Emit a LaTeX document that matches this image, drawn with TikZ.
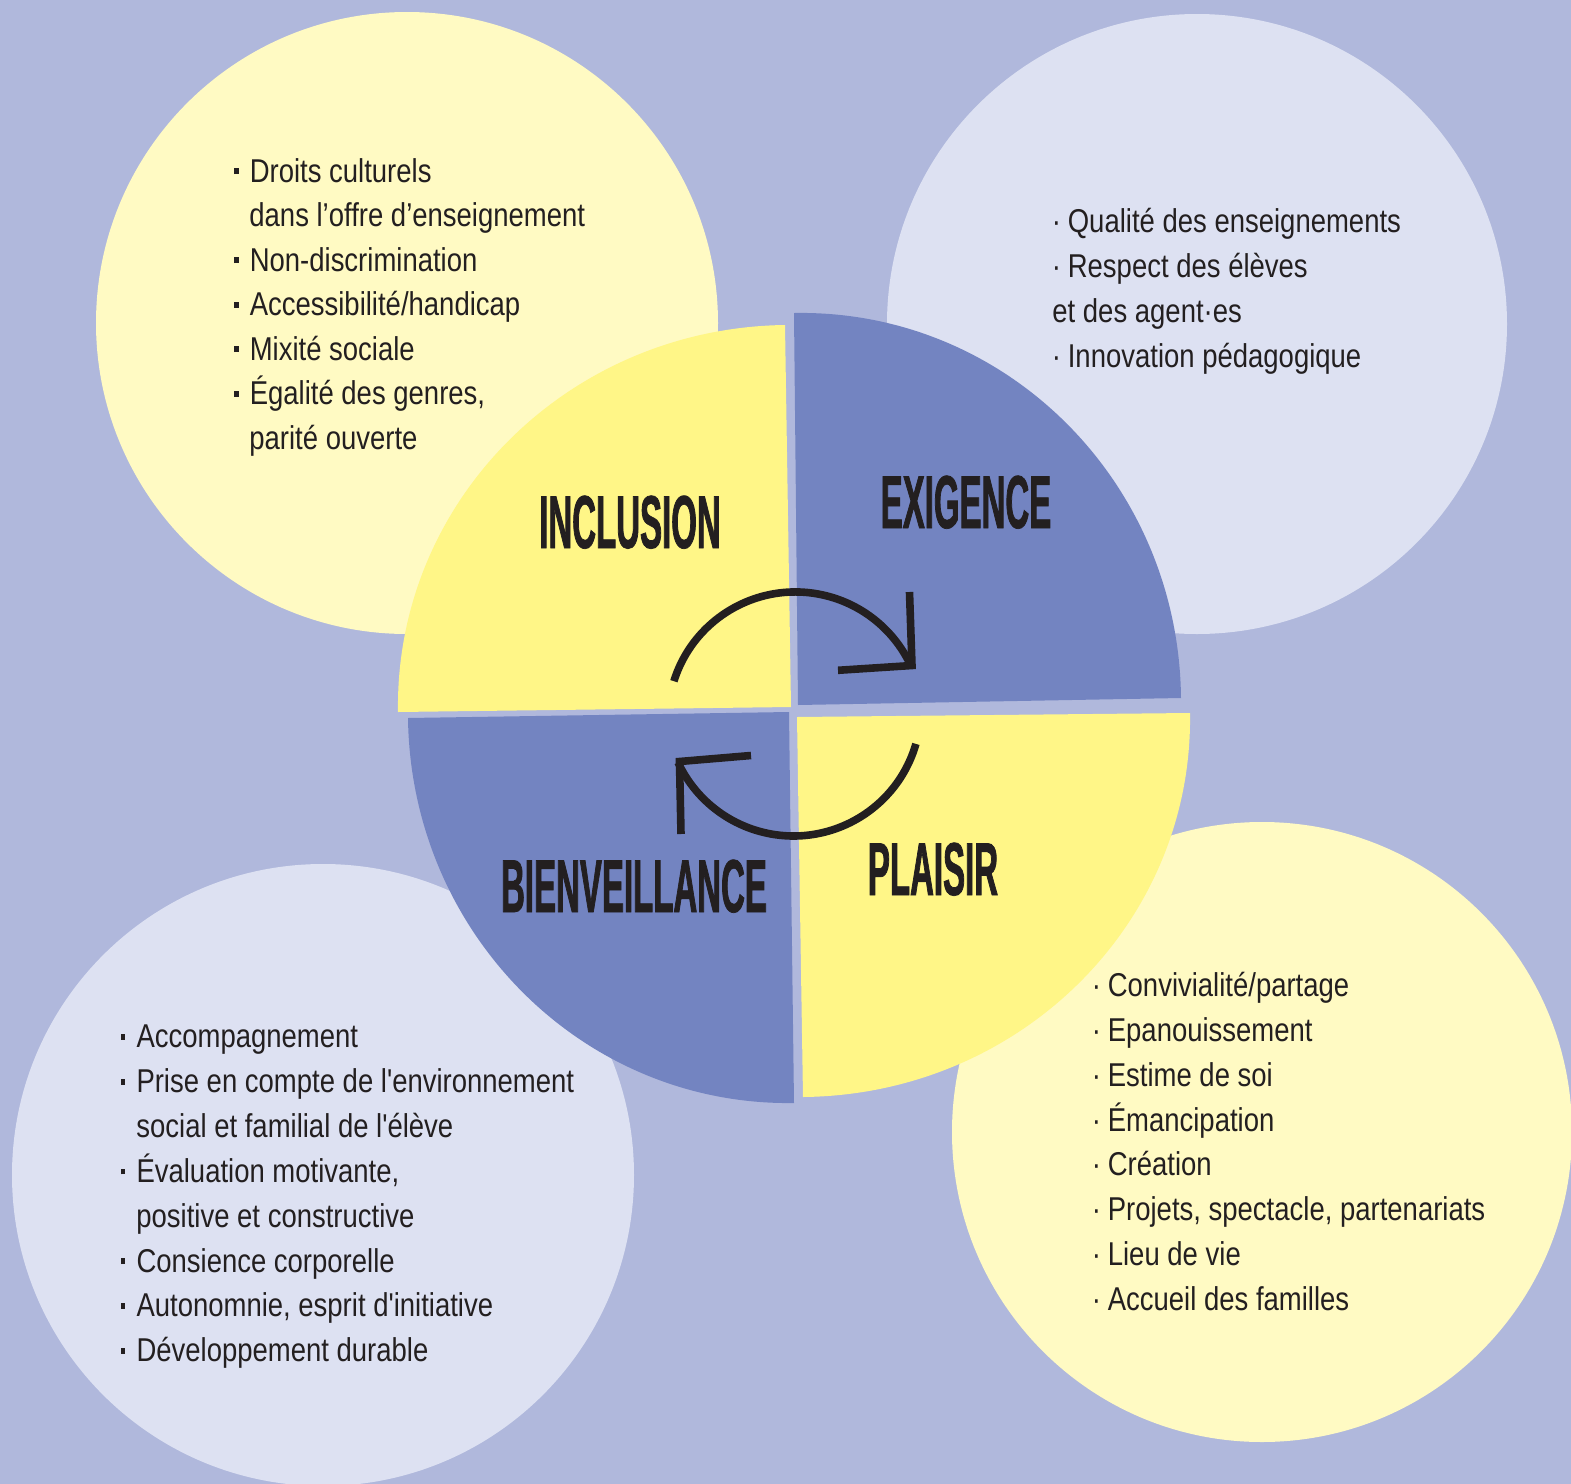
\documentclass[tikz,border=0pt]{standalone}
\usepackage{fontspec}
\newfontfamily\bodyfont[FakeStretch=0.833,Ligatures=TeXOff]{Liberation Sans}
\newfontfamily\titlefont[FakeStretch=0.44,FakeBold=1.0]{Liberation Sans}
\definecolor{bg}{HTML}{B0B8DC}
\definecolor{ly}{HTML}{FFFAC3}
\definecolor{ll}{HTML}{DDE1F2}
\definecolor{qy}{HTML}{FFF687}
\definecolor{qb}{HTML}{7384C1}
\definecolor{ink}{HTML}{231F20}
\newcommand\sqb{\rule[4.0pt]{2.1pt}{2.8pt}\hspace{5.6pt}}
\newcommand\dotb{·\hspace{3.4pt}}
\begin{document}
\begin{tikzpicture}[x=0.5pt,y=-0.5pt,
  txt/.style={anchor=base west,inner sep=0pt,font=\bodyfont\fontsize{16.5}{20}\selectfont,text=ink},
  ttl/.style={anchor=base,inner sep=0pt,font=\titlefont\bfseries\fontsize{37.5}{40}\selectfont,text=ink},
  cyc/.style={draw=ink,line width=3.8pt},
  head/.style={draw=ink,line width=3.8pt,miter limit=10}]
\useasboundingbox (0,0) rectangle (1571,1484);
\fill[bg] (0,0) rectangle (1571,1484);
% outer circles
\fill[ly] (407,323) circle[radius=311];
\fill[ll] (1197,324) circle[radius=310];
\fill[ll] (323,1175) circle[radius=311];
\fill[ly] (1262,1132) circle[radius=310];
% quadrants
\fill[qy] (791,707) -- (785,325) .. controls (567.9,327.8) and (394.7,501) .. (398,712) -- cycle;
\fill[qb] (798,705) -- (794,313) .. controls (1005.5,309.1) and (1178.8,481.5) .. (1181,698) -- cycle;
\fill[qy] (797,717) -- (1190,713) .. controls (1193.3,922.9) and (1020.1,1094.8) .. (803,1097) -- cycle;
\fill[qb] (789,712) -- (794,1103) .. controls (583.6,1106.3) and (410.8,934) .. (408,718) -- cycle;
% cycle arrows
\draw[cyc] (673.9,681.2) arc[start angle=-162.6,end angle=-25,radius=127.3];
\draw[head] (838,670.3) -- (912,665.5) -- (909.5,592);
\draw[cyc] (915.9,743.9) arc[start angle=16.1,end angle=155,radius=127.4];
\draw[head] (751,755.5) -- (679.5,761.5) -- (681,834);
% titles
\node[ttl] (inc) at (630,548) {INCLUSION};
\node[ttl] (exi) at (966,528) {EXIGENCE};
\node[ttl] (bien) at (634,912) {BIENVEILLANCE};
\node[ttl] (pla) at (933,895) {PLAISIR};
% top-left list
\node[txt] (tl1) at (234,182) {\sqb Droits culturels};
\node[txt] (tl2) at (249,226.5) {dans l’offre d’enseignement};
\node[txt] (tl3) at (234,271) {\sqb Non-discrimination};
\node[txt] (tl4) at (234,315.5) {\sqb Accessibilité/handicap};
\node[txt] (tl5) at (234,360) {\sqb Mixité sociale};
\node[txt] (tl6) at (234,404.5) {\sqb Égalité des genres,};
\node[txt] (tl7) at (249,449) {parité ouverte};
% top-right list
\node[txt] (tr1) at (1051.5,232) {\dotb Qualité des enseignements};
\node[txt] (tr2) at (1051.5,277) {\dotb Respect des élèves};
\node[txt] (tr3) at (1052,322) {et des agent·es};
\node[txt] (tr4) at (1051.5,367) {\dotb Innovation pédagogique};
% bottom-left list
\node[txt] (bl1) at (120.7,1047.7) {\sqb Accompagnement};
\node[txt] (bl2) at (120.7,1092.6) {\sqb Prise en compte de l'environnement};
\node[txt] (bl3) at (136,1137.4) {social et familial de l'élève};
\node[txt] (bl4) at (120.7,1182.3) {\sqb Évaluation motivante,};
\node[txt] (bl5) at (136,1227.1) {positive et constructive};
\node[txt] (bl6) at (120.7,1272.0) {\sqb Consience corporelle};
\node[txt] (bl7) at (120.7,1316.9) {\sqb Autonomnie, esprit d'initiative};
\node[txt] (bl8) at (120.7,1361.7) {\sqb Développement durable};
% bottom-right list
\node[txt] (br1) at (1091.5,996.7) {\dotb Convivialité/partage};
\node[txt] (br2) at (1091.5,1041.5) {\dotb Epanouissement};
\node[txt] (br3) at (1091.5,1086.2) {\dotb Estime de soi};
\node[txt] (br4) at (1091.5,1131.0) {\dotb Émancipation};
\node[txt] (br5) at (1091.5,1175.7) {\dotb Création};
\node[txt] (br6) at (1091.5,1220.5) {\dotb Projets, spectacle, partenariats};
\node[txt] (br7) at (1091.5,1265.3) {\dotb Lieu de vie};
\node[txt] (br8) at (1091.5,1310.0) {\dotb Accueil des familles};
\end{tikzpicture}
\end{document}
